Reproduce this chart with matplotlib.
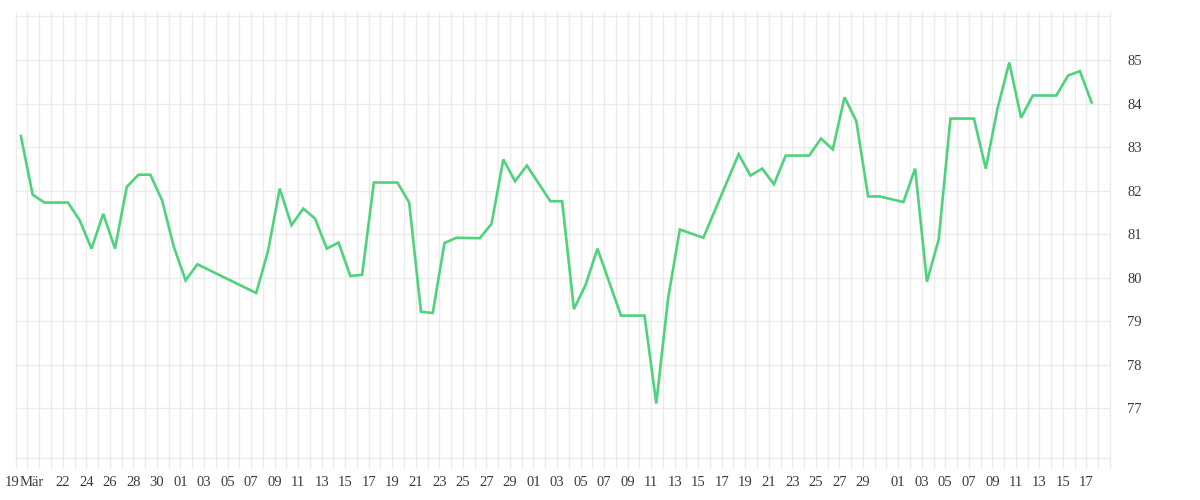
import matplotlib
matplotlib.use("Agg")
import matplotlib.pyplot as plt
import matplotlib.transforms as mtransforms
import numpy as np

# days counted from the first grid line (18 Mar)
days = [0, 1, 2, 4, 5, 6, 7, 8, 9, 10, 11, 12, 13, 14, 15, 20, 21, 22, 23, 24,
        25, 26, 27, 28, 29, 30, 32, 33, 34, 35, 36, 37, 39, 40, 41, 42, 43, 45,
        46, 47, 48, 49, 51, 53, 54, 55, 56, 58, 61, 62, 63, 64, 65, 67, 68, 69,
        70, 71, 72, 73, 75, 76, 77, 78, 79, 81, 82, 83, 84, 85, 86, 88, 89, 90, 91]
values = [83.26, 81.91, 81.73, 81.73, 81.32, 80.67, 81.47, 80.67, 82.09, 82.37,
          82.37, 81.78, 80.71, 79.94, 80.31, 79.65, 80.61, 82.05, 81.21, 81.59,
          81.36, 80.67, 80.81, 80.04, 80.07, 82.19, 82.19, 81.73, 79.22, 79.19,
          80.80, 80.92, 80.91, 81.24, 82.72, 82.22, 82.58, 81.76, 81.76, 79.28,
          79.84, 80.67, 79.13, 79.13, 77.11, 79.52, 81.11, 80.92, 82.84, 82.35,
          82.51, 82.15, 82.81, 82.81, 83.20, 82.95, 84.15, 83.60, 81.87, 81.87,
          81.74, 82.51, 79.91, 80.88, 83.66, 83.66, 82.51, 83.89, 84.95, 83.68,
          84.19, 84.19, 84.65, 84.75, 84.03]

tick_days = [0, 0.35, 4, 6, 8, 10, 12,
             14, 16, 18, 20, 22, 24, 26, 28, 30, 32, 34, 36, 38, 40, 42,
             44, 46, 48, 50, 52, 54, 56, 58, 60, 62, 64, 66, 68, 70, 72,
             75, 77, 79, 81, 83, 85, 87, 89, 91]
tick_labels = ["19", "Mär", "22", "24", "26", "28", "30",
               "01", "03", "05", "07", "09", "11", "13", "15", "17", "19", "21",
               "23", "25", "27", "29",
               "01", "03", "05", "07", "09", "11", "13", "15", "17", "19", "21",
               "23", "25", "27", "29",
               "01", "03", "05", "07", "09", "11", "13", "15", "17"]
y_ticks = [77, 78, 79, 80, 81, 82, 83, 84, 85]

grid_c = "#ebebeb"
line_c = "#4fd27c"
text_c = "#3a3a3a"

plt.rcParams['font.family'] = ['Liberation Serif', 'DejaVu Serif']

fig = plt.figure(figsize=(12, 5), dpi=100)
ax = fig.add_axes([15.7 / 1200, 1 - 458.3 / 500, (1110 - 15.7) / 1200, (458.3 - 15.7) / 500])

ax.set_xlim(0, 93)
ax.set_ylim(75.85, 86.025)

# daily vertical grid lines, running a bit past the plot box like ticks
h = 442.6
trans = ax.get_xaxis_transform()
ax.vlines(np.arange(0, 94), -10 / h, 1 + 3.6 / h, transform=trans,
          colors=grid_c, linewidth=1, clip_on=False, zorder=0)
for y in y_ticks:
    ax.axhline(y, color=grid_c, linewidth=1, zorder=0)

for side in ['left', 'right']:
    ax.spines[side].set_visible(False)
for side in ['top', 'bottom']:
    ax.spines[side].set_color(grid_c)
    ax.spines[side].set_linewidth(1)

ax.plot(np.array(days) + 0.44, values, color=line_c, linewidth=1.9,
        solid_joinstyle='miter', zorder=3)

ax.set_xticks(tick_days)
ax.set_xticklabels(tick_labels)
ax.tick_params(axis='x', length=0, pad=13, labelsize=10.5, labelcolor=text_c)

# first two labels sit side by side, "19Mär"
xl = ax.get_xticklabels()
xl[0].set_ha('right')
xl[0].set_transform(xl[0].get_transform() +
                    mtransforms.ScaledTranslation(3 / 72, 0, fig.dpi_scale_trans))
xl[1].set_ha('left')

ax.yaxis.tick_right()
ax.set_yticks(y_ticks)
ax.set_yticklabels([str(v) for v in y_ticks])
ax.tick_params(axis='y', length=0, pad=12.5, labelsize=10.5, labelcolor=text_c)

fig.savefig("out.png", dpi=100)
